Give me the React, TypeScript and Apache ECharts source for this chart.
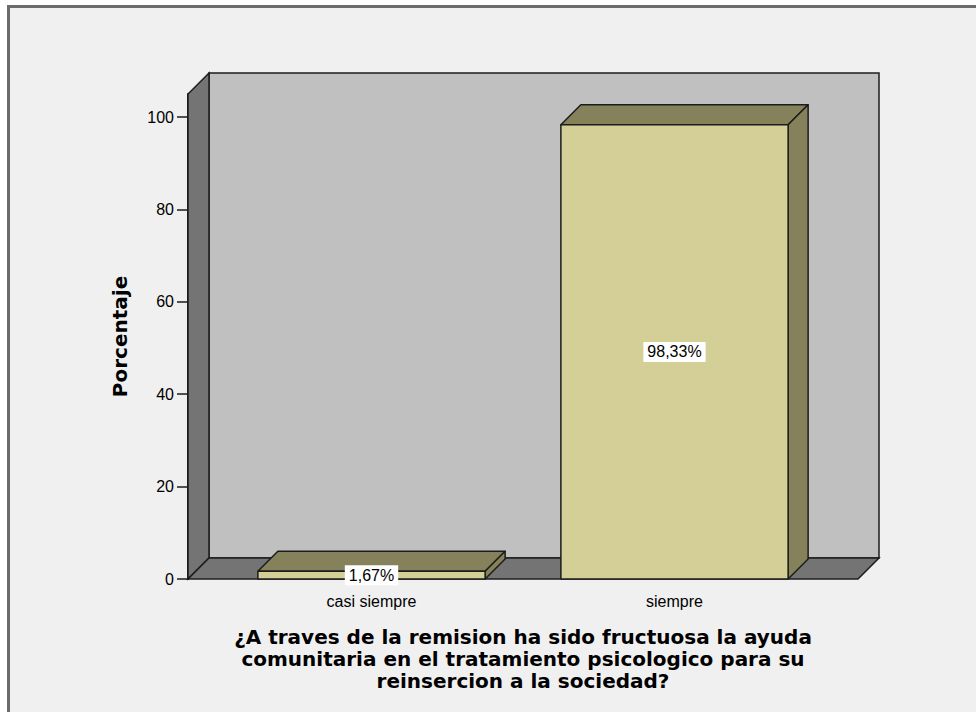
import React, { useEffect, useRef } from "react";
import * as echarts from "echarts";

const categories = ["casi siempre", "siempre"];
const percentages = [1.67, 98.33];
const yTicks = [0, 20, 40, 60, 80, 100];
const yMax = 105;
const yTitle = "Porcentaje";
const xTitle =
  "¿A traves de la remision ha sido fructuosa la ayuda\ncomunitaria en el tratamiento psicologico para su\nreinsercion a la sociedad?";

const REG = "'Liberation Sans', Arial, sans-serif";
const BOLD = "'DejaVu Sans', sans-serif";
const EDGE = "#1c1c1c";
const WALL_DEPTH = 21;
const BAR_DEPTH = 20;

function fmt(v: number) {
  return v.toFixed(2).replace(".", ",") + "%";
}

export default function App() {
  const ref = useRef<HTMLDivElement>(null);
  useEffect(() => {
    if (!ref.current) return;
    const chart = echarts.init(ref.current, undefined, { renderer: "svg" });

    const renderWalls = (params: any, api: any) => {
      const fl = api.coord([0, 0]);
      const fr = api.coord([1, 0]);
      const ft = api.coord([0, yMax]);
      const d = WALL_DEPTH;
      const stroke = { stroke: EDGE, lineWidth: 1.5 };
      return {
        type: "group",
        children: [
          {
            type: "rect",
            shape: { x: fl[0] + d, y: ft[1] - d, width: fr[0] - fl[0], height: fl[1] - ft[1] },
            style: { fill: "#c0c0c0", ...stroke },
          },
          {
            type: "polygon",
            shape: { points: [[fl[0], fl[1]], [ft[0], ft[1]], [ft[0] + d, ft[1] - d], [fl[0] + d, fl[1] - d]] },
            style: { fill: "#747474", ...stroke },
          },
          {
            type: "polygon",
            shape: { points: [[fl[0], fl[1]], [fr[0], fr[1]], [fr[0] + d, fr[1] - d], [fl[0] + d, fl[1] - d]] },
            style: { fill: "#747474", ...stroke },
          },
        ],
      };
    };

    const renderBar = (params: any, api: any) => {
      const idx = api.value(0);
      const val = api.value(1);
      const base = api.coord([idx, 0]);
      const top = api.coord([idx, val]);
      const w = api.size([1, 0])[0] * 0.75;
      const x0 = base[0] - w / 2;
      const x1 = base[0] + w / 2;
      const yT = top[1];
      const yB = base[1];
      const d = BAR_DEPTH;
      const stroke = { stroke: EDGE, lineWidth: 1.5, lineJoin: "round" };
      return {
        type: "group",
        children: [
          {
            type: "polygon",
            shape: { points: [[x0, yT], [x0 + d, yT - d], [x1 + d, yT - d], [x1, yT]] },
            style: { fill: "#85825b", ...stroke },
          },
          {
            type: "polygon",
            shape: { points: [[x1, yT], [x1 + d, yT - d], [x1 + d, yB - d], [x1, yB]] },
            style: { fill: "#85825b", ...stroke },
          },
          {
            type: "rect",
            shape: { x: x0, y: yT, width: w, height: yB - yT },
            style: { fill: "#d3cf97", ...stroke },
          },
          {
            type: "text",
            style: {
              text: fmt(val),
              x: base[0],
              y: (yT + yB) / 2,
              align: "center",
              verticalAlign: "middle",
              fill: "#000",
              fontFamily: REG,
              fontSize: 16,
              backgroundColor: "#ffffff",
              padding: [2, 4],
            },
          },
        ],
      };
    };

    chart.setOption({
      animation: false,
      backgroundColor: "#ffffff",
      graphic: [
        {
          type: "rect",
          z: -10,
          silent: true,
          shape: { x: 8.5, y: 6.5, width: 1200, height: 1200 },
          style: { fill: "#f0f0f0", stroke: "#6b6b6b", lineWidth: 3 },
        },
      ],
      grid: [
        { left: 188, right: 118, top: 94, bottom: 133 },
        { left: 220, right: 150, top: 94, bottom: 133 },
      ],
      xAxis: [
        { gridIndex: 0, type: "value", min: 0, max: 1, show: false },
        {
          gridIndex: 1,
          type: "category",
          data: categories,
          axisLine: { show: false },
          axisTick: { show: false },
          axisLabel: { margin: 14, color: "#000", fontFamily: REG, fontSize: 16 },
          name: xTitle,
          nameLocation: "middle",
          nameGap: 47,
          nameTextStyle: {
            color: "#000",
            fontFamily: BOLD,
            fontWeight: "bold",
            fontSize: 20,
            lineHeight: 22,
            align: "center",
          },
        },
      ],
      yAxis: [
        {
          gridIndex: 0,
          type: "value",
          min: 0,
          max: yMax,
          axisLine: { show: true, lineStyle: { color: EDGE, width: 2 } },
          axisTick: { show: true, length: 11, customValues: yTicks, lineStyle: { color: EDGE, width: 1.5 } },
          axisLabel: { customValues: yTicks, margin: 14, color: "#000", fontFamily: REG, fontSize: 16 },
          splitLine: { show: false },
          name: yTitle,
          nameLocation: "middle",
          nameRotate: 90,
          nameGap: 58,
          nameTextStyle: { color: "#000", fontFamily: BOLD, fontWeight: "bold", fontSize: 20 },
        },
        { gridIndex: 1, type: "value", min: 0, max: yMax, show: false },
      ],
      series: [
        {
          type: "custom",
          xAxisIndex: 0,
          yAxisIndex: 0,
          z: 1,
          silent: true,
          data: [[0, 0]],
          renderItem: renderWalls,
        },
        {
          type: "custom",
          xAxisIndex: 1,
          yAxisIndex: 1,
          z: 3,
          data: percentages.map((v, i) => [i, v]),
          encode: { x: 0, y: 1 },
          renderItem: renderBar,
        },
      ],
    });
    return () => chart.dispose();
  }, []);

  return (
    <div
      ref={ref}
      style={{ position: "absolute", left: 0, top: 0, width: 976, height: 712 }}
    />
  );
}
